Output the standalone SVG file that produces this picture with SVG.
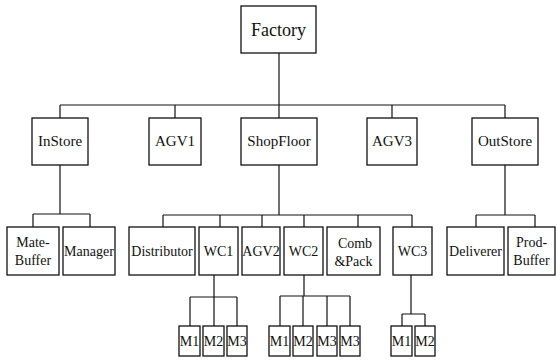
<svg xmlns="http://www.w3.org/2000/svg" width="557" height="362" viewBox="0 0 557 362" font-family="'Liberation Serif', 'DejaVu Serif', 'Times New Roman', serif">
<style>
rect{fill:#fff;stroke:#111;stroke-width:1.3}
text{font-family:'Liberation Serif','DejaVu Serif','Times New Roman',serif;fill:#111;text-anchor:middle}
.l0{font-size:18px}
.l1{font-size:15px}
.l2{font-size:14px}
.m{font-size:14px}
#connectors path{fill:none;stroke:#111;stroke-width:1.2}
</style>
<rect x="0" y="0" width="557" height="362" style="fill:#fff;stroke:none"/>
<g id="connectors">
<path d="M279 53V105M60 105H505M60 105V118M175 105V118M279 105V118M392 105V118M505 105V118"/>
<path d="M60 165V214M33 214H90M33 214V227M90 214V227"/>
<path d="M279 165V215M163 215H412M163 215V227M220 215V227M262 215V227M304 215V227M358 215V227M412 215V227"/>
<path d="M505 165V215M476 215H535M476 215V227M535 215V227"/>
<path d="M214 275V297M190 297H237M190 297V326M214 297V326M237 297V326"/>
<path d="M304 275V296M280 296H350M280 296V326M303 296V326M327 296V326M350 296V326"/>
<path d="M411 275V314M402 314H425M402 314V326M425 314V326"/>
</g>
<g id="factory"><rect x="241" y="6" width="75" height="47"/><text class="l0" x="278.5" y="36">Factory</text></g>
<g id="instore"><rect x="32" y="118" width="56" height="47"/><text class="l1" x="60" y="146">InStore</text></g>
<g id="agv1"><rect x="149" y="118" width="52" height="47"/><text class="l1" x="175" y="146">AGV1</text></g>
<g id="shopfloor"><rect x="241" y="118" width="76" height="47"/><text class="l1" x="279" y="146">ShopFloor</text></g>
<g id="agv3"><rect x="367" y="118" width="50" height="47"/><text class="l1" x="392" y="146">AGV3</text></g>
<g id="outstore"><rect x="472" y="118" width="66" height="47"/><text class="l1" x="505" y="146">OutStore</text></g>
<g id="matebuffer"><rect x="7" y="227" width="52" height="48"/><text class="l2" x="33" y="247">Mate-</text><text class="l2" x="33" y="265">Buffer</text></g>
<g id="manager"><rect x="63" y="227" width="52" height="48"/><text class="l2" x="89" y="256">Manager</text></g>
<g id="distributor"><rect x="129" y="227" width="66" height="48"/><text class="l2" x="162" y="256">Distributor</text></g>
<g id="wc1"><rect x="199" y="227" width="39" height="48"/><text class="l2" x="218.5" y="256">WC1</text></g>
<g id="agv2"><rect x="242" y="227" width="38" height="48"/><text class="l2" x="261" y="256">AGV2</text></g>
<g id="wc2"><rect x="284" y="227" width="39" height="48"/><text class="l2" x="303.5" y="256">WC2</text></g>
<g id="combpack"><rect x="327" y="227" width="53" height="48"/><text class="l2" x="355" y="248">Comb</text><text class="l2" x="353.5" y="266">&amp;Pack</text></g>
<g id="wc3"><rect x="393" y="227" width="39" height="48"/><text class="l2" x="412.5" y="256">WC3</text></g>
<g id="deliverer"><rect x="447" y="227" width="57" height="48"/><text class="l2" x="475.5" y="256">Deliverer</text></g>
<g id="prodbuffer"><rect x="508" y="227" width="47" height="48"/><text class="l2" x="531.5" y="247">Prod-</text><text class="l2" x="531.5" y="265">Buffer</text></g>
<g id="wc1-m1"><rect x="179" y="326" width="21" height="30"/><text class="m" x="189.5" y="346">M1</text></g>
<g id="wc1-m2"><rect x="203" y="326" width="21" height="30"/><text class="m" x="213.5" y="346">M2</text></g>
<g id="wc1-m3"><rect x="227" y="326" width="20" height="30"/><text class="m" x="237" y="346">M3</text></g>
<g id="wc2-m1"><rect x="269" y="326" width="21" height="30"/><text class="m" x="279.5" y="346">M1</text></g>
<g id="wc2-m2"><rect x="293" y="326" width="20" height="30"/><text class="m" x="303" y="346">M2</text></g>
<g id="wc2-m3a"><rect x="317" y="326" width="20" height="30"/><text class="m" x="327" y="346">M3</text></g>
<g id="wc2-m3b"><rect x="340" y="326" width="20" height="30"/><text class="m" x="350" y="346">M3</text></g>
<g id="wc3-m1"><rect x="391" y="326" width="21" height="30"/><text class="m" x="401.5" y="346">M1</text></g>
<g id="wc3-m2"><rect x="415" y="326" width="20" height="30"/><text class="m" x="425" y="346">M2</text></g>
</svg>
